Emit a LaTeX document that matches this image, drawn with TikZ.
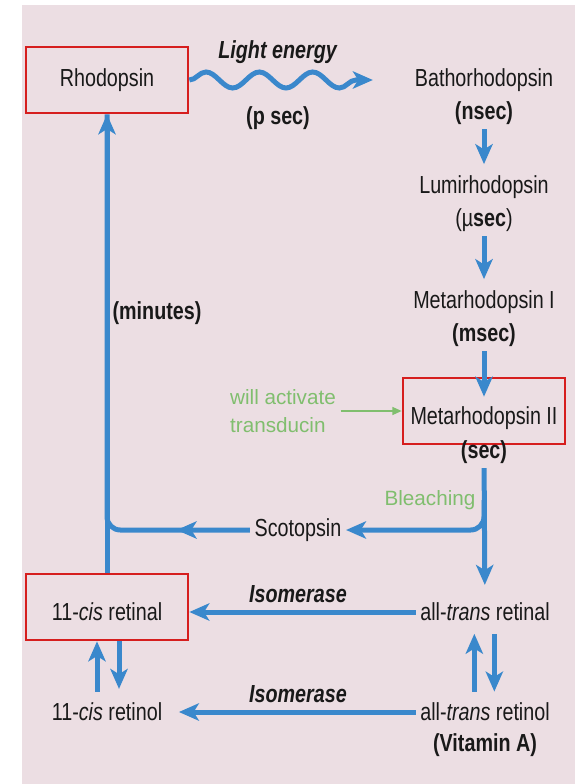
\documentclass[tikz,border=0pt]{standalone}
\usepackage{fontspec}
\setmainfont[FakeStretch=0.8]{Liberation Sans}
\newfontfamily\notefont{Liberation Sans}
\usetikzlibrary{arrows.meta,decorations.pathmorphing,decorations.markings}

\definecolor{flowblue}{RGB}{58,136,204}
\definecolor{boxred}{RGB}{214,30,30}
\definecolor{notegreen}{RGB}{128,190,110}
\definecolor{bgpink}{RGB}{236,222,227}

\begin{document}
\begin{tikzpicture}[x=0.75pt, y=-0.75pt,
  every node/.style={text=black!90, font=\fontsize{18.5}{22}\selectfont},
  redbox/.style={draw=boxred, line width=1.5pt, minimum width=122pt, minimum height=50pt},
  lowtext/.style={text height=20pt, text depth=0pt},
  note/.style={text=notegreen, font=\notefont\fontsize{15.5}{20.5}\selectfont},
  flowline/.style={draw=flowblue, line width=3.75pt},
  flow/.style={flowline, -{Stealth[length=15pt,width=13pt,inset=4pt]}},
  midarrow/.style={postaction={decorate, decoration={markings,
    mark=at position 55pt with {\arrow{Stealth[length=15pt,width=13pt,inset=4pt]}}}}},
  wavy/.style={flow, decorate, decoration={snake, amplitude=6pt, segment length=40pt, post length=12pt}},
  notearrow/.style={draw=notegreen, line width=1.1pt, -{Triangle[length=7pt,width=6pt]}}]

\fill[bgpink] (22,5) rectangle (575,784);
\useasboundingbox (0,0) rectangle (575,784);

% Rhodopsin and the bleaching chain
\node[redbox] (rhod) at (107,80) {Rhodopsin};
\node (batho) at (484,80) {Bathorhodopsin};
\node (bathoT) at (484,113) {\textbf{(nsec)}};
\node (lumi) at (484,187) {Lumirhodopsin};
\node (lumiT) at (484,220) {(µ\textbf{sec})};
\node (metaI) at (484,302) {Metarhodopsin I};
\node (metaIT) at (484,335) {\textbf{(msec)}};
\node[redbox, lowtext] (metaII) at (484,411) {Metarhodopsin II};
\node (metaIIT) at (484,452) {\textbf{(sec)}};
\node (scot) at (298,530) {Scotopsin};

% Retinal and retinol
\node[redbox, lowtext] (cisral) at (107,607) {11-\textit{cis} retinal};
\node (cisrol) at (107,712) {11-\textit{cis} retinol};
\node (transral) at (485,612) {all-\textit{trans} retinal};
\node (transrol) at (485,712) {all-\textit{trans} retinol};
\node (vita) at (485,745) {\textbf{(Vitamin A)}};

% Labels
\node (light) at (278,52) {\textbf{\textit{Light energy}}};
\node (psec) at (278,118) {\textbf{(p sec)}};
\node (minutes) at (157,313) {\textbf{(minutes)}};
\node (isoA) at (298,594) {\textbf{\textit{Isomerase}}};
\node (isoB) at (298,694) {\textbf{\textit{Isomerase}}};
\node[note, align=left] (transd) at (283,411) {will activate\\transducin};
\node[note] (bleach) at (430,500) {Bleaching};

% Arrows
\draw[wavy] (rhod.east) -- ([xshift=-28pt]batho.west);
\draw[flow, shorten >=5pt] (bathoT) -- (lumi);
\draw[flow, shorten >=5pt] (lumiT) -- (metaI);
\draw[flow] (metaIT) -- ([yshift=-15pt]metaII.north);
\draw[notearrow] (transd) -- (metaII);
\draw[flow, shorten >=10pt] (metaIIT) -- (transral);
\coordinate (fork) at (484,500);
\draw[flow, rounded corners=10pt] (fork) |- (scot);
\draw[flowline, rounded corners=10pt, midarrow] (scot) -| (rhod);
\draw[flow] (cisral) -- (rhod);

\draw[flow] (transral.west) -- (cisral.east |- transral.west);
\draw[flow, shorten >=9pt] (transrol) -- (cisrol);

\draw[flow, shorten <=5pt] ([xshift=-7.5pt]cisrol.north) -- ([xshift=-7.5pt]cisral.south);
\draw[flow, shorten >=7pt] ([xshift=9pt]cisral.south) -- ([xshift=9pt]cisrol.north);
\draw[flow, shorten <=5pt, shorten >=6pt] ([xshift=-8pt]transrol.north) -- ([xshift=-8pt]transral.south);
\draw[flow, shorten <=6pt, shorten >=5pt] ([xshift=7pt]transral.south) -- ([xshift=7pt]transrol.north);
\end{tikzpicture}
\end{document}
